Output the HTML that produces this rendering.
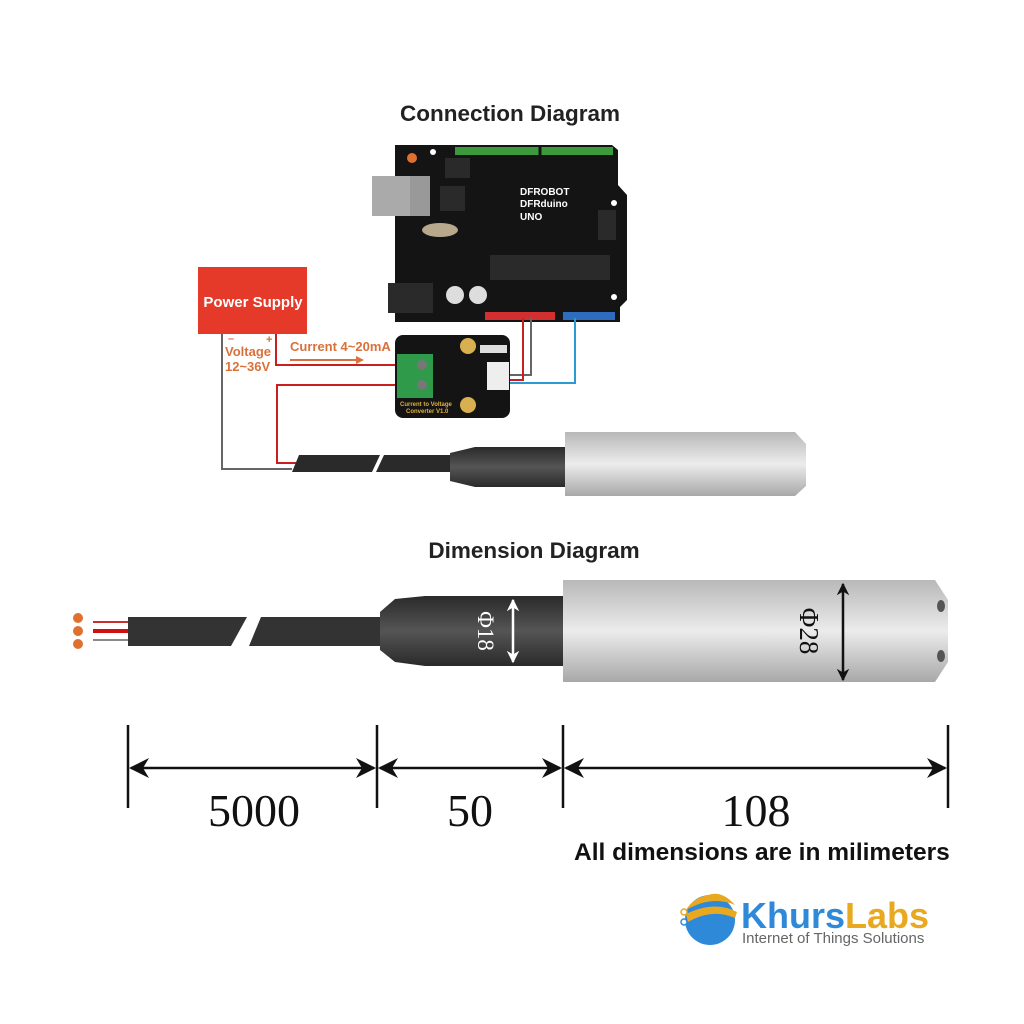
<!DOCTYPE html>
<html><head><style>body{margin:0;background:#fff}svg{display:block}</style></head><body>
<svg width="1024" height="1024" viewBox="0 0 1024 1024" xmlns="http://www.w3.org/2000/svg" font-family="Liberation Sans, sans-serif">
<defs>
<linearGradient id="cyl" x1="0" y1="0" x2="0" y2="1"><stop offset="0" stop-color="#b8b8b8"/><stop offset="0.5" stop-color="#ececec"/><stop offset="1" stop-color="#a8a8a8"/></linearGradient>
<linearGradient id="blk" x1="0" y1="0" x2="0" y2="1"><stop offset="0" stop-color="#2a2a2a"/><stop offset="0.5" stop-color="#555"/><stop offset="1" stop-color="#2a2a2a"/></linearGradient>
<marker id="ah" viewBox="0 0 10 10" refX="9" refY="5" markerWidth="8" markerHeight="8" orient="auto-start-reverse"><path d="M0,0 L10,5 L0,10 L3,5z" fill="#111"/></marker>
<marker id="aw" viewBox="0 0 10 10" refX="9" refY="5" markerWidth="5" markerHeight="5" orient="auto-start-reverse"><path d="M0,0 L10,5 L0,10 L3,5z" fill="#fff"/></marker>
<marker id="ab" viewBox="0 0 10 10" refX="9" refY="5" markerWidth="5" markerHeight="5" orient="auto-start-reverse"><path d="M0,0 L10,5 L0,10 L3,5z" fill="#111"/></marker>
</defs>
<text x="510" y="121" text-anchor="middle" font-size="22.5" font-weight="bold" fill="#222">Connection Diagram</text>
<!-- Arduino -->
<path d="M395,145 H612 L618,150 V185 L627,195 V300 L620,307 V322 H395 Z" fill="#141414"/>
<rect x="455" y="147" width="158" height="8" fill="#3c9a3c"/>
<path d="M540,147 V155" stroke="#141414" stroke-width="3"/>
<rect x="372" y="176" width="58" height="40" fill="#aaa"/><rect x="410" y="176" width="20" height="40" fill="#999"/>
<rect x="388" y="283" width="45" height="30" fill="#2a2a2a"/>
<rect x="490" y="255" width="120" height="25" fill="#2a2a2a"/>
<rect x="440" y="186" width="25" height="25" fill="#2a2a2a"/>
<rect x="445" y="158" width="25" height="20" fill="#2a2a2a"/>
<rect x="598" y="210" width="18" height="30" fill="#2a2a2a"/>
<ellipse cx="440" cy="230" rx="18" ry="7" fill="#b8a88c"/>
<circle cx="455" cy="295" r="9" fill="#ddd"/><circle cx="478" cy="295" r="9" fill="#ddd"/>
<circle cx="412" cy="158" r="5" fill="#e07030"/>
<circle cx="433" cy="152" r="3" fill="#fff"/><circle cx="614" cy="203" r="3" fill="#fff"/><circle cx="614" cy="297" r="3" fill="#fff"/>
<text x="520" y="195" font-size="10" font-weight="bold" fill="#fff">DFROBOT</text>
<text x="520" y="207" font-size="10" font-weight="bold" fill="#fff">DFRduino</text>
<text x="520" y="220" font-size="10" font-weight="bold" fill="#fff">UNO</text>
<rect x="485" y="312" width="70" height="8" fill="#d23030"/>
<rect x="563" y="312" width="52" height="8" fill="#2e6cc0"/>
<!-- Power supply -->
<rect x="198" y="267" width="109" height="67" fill="#e53a2a"/>
<text x="253" y="307" text-anchor="middle" font-size="15" font-weight="bold" fill="#fff">Power Supply</text>
<g fill="#d9713a" font-weight="bold" font-size="13">
<text x="228" y="342" font-size="11">–</text><text x="266" y="343" font-size="11">+</text>
<text x="225" y="356">Voltage</text><text x="225" y="371">12~36V</text>
<text x="290" y="351">Current  4~20mA</text></g>
<path d="M290,360 H360" stroke="#d9713a" stroke-width="2"/><path d="M356,356 L364,360 L356,364z" fill="#d9713a"/>
<!-- wires -->
<path d="M222,334 V469 H292" stroke="#666" stroke-width="2" fill="none"/>
<path d="M276,334 V365 H400" stroke="#c82020" stroke-width="2" fill="none"/>
<path d="M400,385 H277 V463 H296" stroke="#c82020" stroke-width="2" fill="none"/>
<path d="M508,375 H531 V318" stroke="#666" stroke-width="2" fill="none"/>
<path d="M508,380 H523 V318" stroke="#c82020" stroke-width="2" fill="none"/>
<path d="M508,383 H575 V318" stroke="#2a9ad0" stroke-width="2" fill="none"/>
<!-- converter -->
<rect x="395" y="335" width="115" height="83" rx="8" fill="#141414"/>
<rect x="397" y="354" width="36" height="44" fill="#2e9a4a"/>
<circle cx="422" cy="365" r="5" fill="#777"/><circle cx="422" cy="385" r="5" fill="#777"/>
<circle cx="468" cy="346" r="8" fill="#d8b050"/><circle cx="468" cy="405" r="8" fill="#d8b050"/>
<rect x="487" y="362" width="22" height="28" fill="#eee"/>
<rect x="480" y="345" width="27" height="8" fill="#ddd"/>
<text x="400" y="406" font-size="6" font-weight="bold" fill="#e0b040">Current to Voltage</text>
<text x="406" y="413" font-size="6" font-weight="bold" fill="#e0b040">Converter V1.0</text>
<!-- top sensor -->
<path d="M299,455 H380 L372,472 H292 Z" fill="#2a2a2a"/>
<path d="M384,455 H455 V472 H376 Z" fill="#2a2a2a"/>
<path d="M450,453 L475,447 H567 V487 H475 L450,481 Z" fill="url(#blk)"/>
<path d="M565,432 H795 L806,444 V486 L795,496 H565 Z" fill="url(#cyl)"/>
<!-- Dimension diagram -->
<text x="534" y="558" text-anchor="middle" font-size="22.5" font-weight="bold" fill="#222">Dimension Diagram</text>
<circle cx="78" cy="618" r="5" fill="#e07030"/><circle cx="78" cy="631" r="5" fill="#e07030"/><circle cx="78" cy="644" r="5" fill="#e07030"/>
<path d="M93,622 H130" stroke="#c83030" stroke-width="2"/>
<path d="M93,631 H130" stroke="#d01010" stroke-width="4"/>
<path d="M93,640 H130" stroke="#888" stroke-width="2"/>
<path d="M128,617 H247 L231,646 H128 Z" fill="#333"/>
<path d="M261,617 H385 V646 H249 Z" fill="#333"/>
<path d="M380,612 L395,599 L425,596 H565 V666 H425 L395,662 L380,650 Z" fill="url(#blk)"/>
<path d="M563,580 H935 L948,600 V662 L935,682 H563 Z" fill="url(#cyl)"/>
<ellipse cx="941" cy="606" rx="4" ry="6" fill="#555"/><ellipse cx="941" cy="656" rx="4" ry="6" fill="#555"/>
<path d="M513,600 V662" stroke="#fff" stroke-width="2.5" marker-start="url(#aw)" marker-end="url(#aw)"/>
<text transform="translate(478,631) rotate(90)" text-anchor="middle" font-family="Liberation Serif, serif" font-size="23" fill="#fff">Φ18</text>
<path d="M843,584 V680" stroke="#111" stroke-width="2.5" marker-start="url(#ab)" marker-end="url(#ab)"/>
<text transform="translate(800,631) rotate(90)" text-anchor="middle" font-family="Liberation Serif, serif" font-size="27" fill="#111">Φ28</text>
<g stroke="#111" stroke-width="2.5">
<path d="M128,725 V808 M377,725 V808 M563,725 V808 M948,725 V808"/>
<path d="M131,768 H374" marker-start="url(#ah)" marker-end="url(#ah)"/>
<path d="M380,768 H560" marker-start="url(#ah)" marker-end="url(#ah)"/>
<path d="M566,768 H945" marker-start="url(#ah)" marker-end="url(#ah)"/>
</g>
<g font-family="Liberation Serif, serif" font-size="46" fill="#111" text-anchor="middle">
<text x="254" y="826">5000</text><text x="470" y="826">50</text><text x="756" y="826">108</text></g>
<text x="574" y="860" font-size="24.5" font-weight="bold" fill="#111">All dimensions are in milimeters</text>
<!-- logo -->
<circle cx="710" cy="920" r="25" fill="#2e8ad8"/>
<path d="M686,910 Q712,895 735,905 Q722,890 708,895 Q693,898 686,910Z" fill="#e8a820"/>
<path d="M686,914 Q715,900 737,912 L735,918 Q712,908 688,922Z" fill="#e8a820"/>
<circle cx="684" cy="912" r="3" fill="#fff" stroke="#e8a820" stroke-width="1.5"/>
<circle cx="684" cy="922" r="3" fill="#fff" stroke="#2e8ad8" stroke-width="1.5"/>
<text x="741" y="928" font-size="36" font-weight="bold" fill="#2e8ad8">Khurs<tspan fill="#e8a820">Labs</tspan></text>
<text x="742" y="943" font-size="15" fill="#666">Internet of Things Solutions</text>
</svg>
</body></html>
